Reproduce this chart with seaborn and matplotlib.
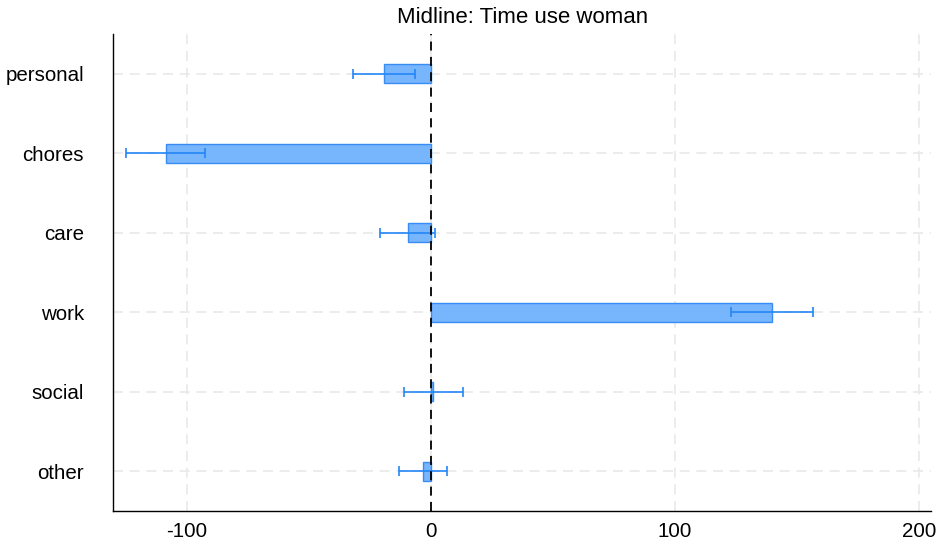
import numpy as np
import pandas as pd
import matplotlib
matplotlib.use("Agg")
import matplotlib.pyplot as plt
import seaborn as sns

# Data
categories = ["personal", "chores", "care", "work", "social", "other"]
estimates = [-19.0, -108.6, -9.4, 139.8, 1.0, -3.1]
ci_low = [-31.7, -124.8, -20.8, 123.0, -11.1, -12.9]
ci_high = [-6.3, -92.4, 1.9, 156.6, 13.2, 6.7]
x_ticks = [-100, 0, 100, 200]
title = "Midline: Time use woman"

sns.set_style("white")
plt.rcParams["font.family"] = ["Liberation Sans", "DejaVu Sans"]

df = pd.DataFrame({"category": categories, "estimate": estimates})

fig = plt.figure(figsize=(9.36, 5.46), dpi=100)
ax = fig.add_axes([0.121, 0.0641, 0.9947 - 0.121, 0.9377 - 0.0641])

fill = "#77b5fc"
edge = "#3a8cf5"
ecol = "#2386f7"

sns.barplot(data=df, x="estimate", y="category", order=categories, orient="h",
            color=fill, saturation=1, width=0.24, errorbar=None,
            edgecolor=edge, linewidth=1.0, ax=ax, zorder=3)

est = np.array(estimates)
lo = est - np.array(ci_low)
hi = np.array(ci_high) - est
ypos = np.arange(len(categories))
ax.errorbar(est, ypos, xerr=[lo, hi], fmt="none", ecolor=ecol,
            elinewidth=1.2, capsize=3.5, capthick=1.2, zorder=4)

ax.axvline(0, color="black", linestyle=(0, (5, 3.5)), linewidth=1.3, zorder=5)

ax.set_xlim(-130.1, 205)
ax.set_ylim(5.5, -0.5)
ax.set_xticks(x_ticks)
ax.set_xticklabels([str(t) for t in x_ticks])
ax.set_xlabel("")
ax.set_ylabel("")

ax.grid(True, axis="both", color="#e9e9e9", linestyle=(0, (6, 4)), linewidth=1.2, zorder=0)
ax.set_axisbelow(True)

for s in ["top", "right"]:
    ax.spines[s].set_visible(False)
for s in ["left", "bottom"]:
    ax.spines[s].set_color("black")
    ax.spines[s].set_linewidth(1.0)

ax.tick_params(axis="x", length=5, width=1, color="black", labelsize=14.8, pad=3)
ax.tick_params(axis="y", length=0, labelsize=14.8, pad=21)
ax.tick_params(axis="both", labelcolor="black")

ax.set_title(title, fontsize=16, pad=8, color="black")

fig.savefig("out.png", dpi=100)
